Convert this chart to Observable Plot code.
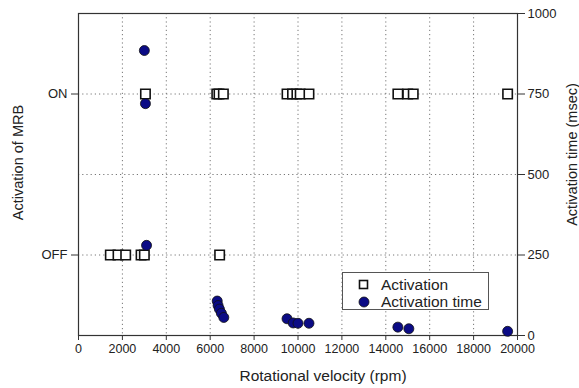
<!DOCTYPE html>
<html>
<head>
<meta charset="utf-8">
<script src="https://cdn.jsdelivr.net/npm/d3@7"></script>
<script src="https://cdn.jsdelivr.net/npm/@observablehq/plot@0.6"></script>
<style>
  body { margin: 0; background: #fff; }
  #wrap { position: relative; width: 579px; height: 388px; font-family: "Liberation Sans", Arial, sans-serif; }
  #legend { position: absolute; left: 342px; top: 272px; width: 147px; height: 38px; border: 1px solid #555; background: #fff; box-sizing: border-box; font-size: 15.5px; color: #222; }
  #legend .row { position: absolute; left: 0; height: 18px; display: flex; align-items: center; white-space: nowrap; }
  #legend svg { margin-left: 15px; margin-right: 11px; }
</style>
</head>
<body>
<div id="wrap"></div>
<script>
// Activation state (ON = 750, OFF = 250 on the shared vertical scale)
const activationOnRpm = [3050, 6300, 6400, 6600, 9500, 9750, 9950, 10100, 10500, 14550, 15000, 15250, 19550];
const activationOffRpm = [1450, 1800, 2150, 2850, 3000, 6430];
// Activation time (msec)
const timeRpm = [3000, 3050, 3100, 6320, 6360, 6420, 6510, 6620, 9500, 9780, 10000, 10500, 14550, 15050, 19550];
const timeMs  = [885, 720, 280, 107, 93, 82, 69, 56, 52, 39, 38, 38, 26, 21, 13];

const xTicks = [0, 2000, 4000, 6000, 8000, 10000, 12000, 14000, 16000, 18000, 20000];
const xGrid = [2000, 4000, 6000, 8000, 10000, 12000, 14000, 16000, 18000];
const rightTicks = [0, 250, 500, 750, 1000];
const yGrid = [250, 500, 750];
const leftTicks = [250, 750];
const leftLabels = ["OFF", "ON"];
const ON = 750, OFF = 250;

const squares = [
  ...activationOffRpm.map(x => ({x, y: OFF})),
  ...activationOnRpm.map(x => ({x, y: ON}))
];
const dots = timeRpm.map((x, i) => ({x, y: timeMs[i]}));

const ink = "#333";
const chart = Plot.plot({
  width: 579,
  height: 388,
  marginLeft: 78,
  marginRight: 62,
  marginTop: 13,
  marginBottom: 53,
  style: { fontFamily: "'Liberation Sans', Arial, sans-serif", fontSize: "13px", color: "#222", background: "#fff" },
  x: { domain: [0, 20000] },
  y: { domain: [0, 1000] },
  marks: [
    Plot.gridX(xGrid, { stroke: "#777", strokeOpacity: 1, strokeDasharray: "1.2,3" }),
    Plot.gridY(yGrid, { stroke: "#777", strokeOpacity: 1, strokeDasharray: "1.2,3" }),
    Plot.frame({ stroke: ink, strokeWidth: 1.2 }),
    Plot.axisX(xTicks, { anchor: "bottom", tickSize: 5, tickPadding: 4, stroke: ink, fill: "#222", fontSize: 12.5, label: null, tickFormat: d => String(d) }),
    Plot.axisY(leftTicks, { anchor: "left", tickSize: 7, tickPadding: 4, stroke: ink, fill: "#222", fontSize: 13, label: null, tickFormat: d => leftLabels[leftTicks.indexOf(d)] }),
    Plot.axisY(rightTicks, { anchor: "right", tickSize: 7, tickPadding: 3, stroke: ink, fill: "#222", fontSize: 13, label: null, tickFormat: d => String(d) }),
    Plot.text(["Activation of MRB"], { frameAnchor: "left", textAnchor: "middle", lineAnchor: "middle", rotate: -90, dx: -60.5, dy: -12, fontSize: 14.5, fill: "#222" }),
    Plot.text(["Activation time (msec)"], { frameAnchor: "right", textAnchor: "middle", lineAnchor: "middle", rotate: -90, dx: 54.5, dy: -20, fontSize: 14.5, fill: "#222" }),
    Plot.text(["Rotational velocity (rpm)"], { frameAnchor: "bottom", textAnchor: "middle", lineAnchor: "middle", dx: 25, dy: 41, fontSize: 15.5, fill: "#222" }),
    Plot.dot(squares, { x: "x", y: "y", symbol: "square", r: 5.3, fill: "#fff", stroke: "#111", strokeWidth: 1.6 }),
    Plot.dot(dots, { x: "x", y: "y", r: 5, fill: "#0b0b85", stroke: "#111", strokeWidth: 0.8 })
  ]
});
const wrap = document.getElementById("wrap");
wrap.appendChild(chart);

const legend = document.createElement("div");
legend.id = "legend";
legend.innerHTML = `
  <div class="row" style="top:3px"><svg width="12" height="12"><rect x="1.5" y="1.5" width="8" height="8" fill="#fff" stroke="#111" stroke-width="1.6"/></svg><span>Activation</span></div>
  <div class="row" style="top:20px"><svg width="12" height="12"><circle cx="6" cy="6" r="5" fill="#0b0b85" stroke="#111" stroke-width="0.8"/></svg><span>Activation time</span></div>`;
wrap.appendChild(legend);
</script>
</body>
</html>
